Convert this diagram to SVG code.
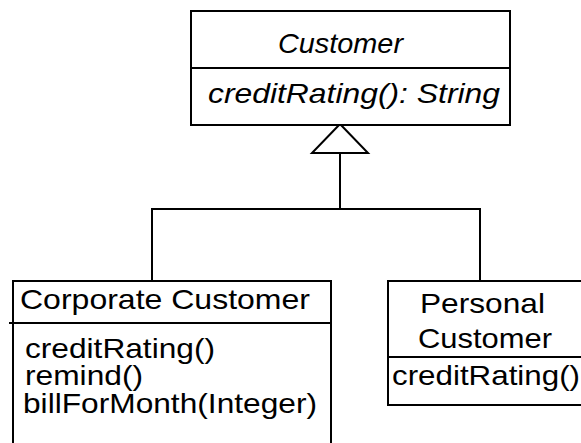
<svg xmlns="http://www.w3.org/2000/svg" width="581" height="443" viewBox="0 0 581 443">
<style>
.box{fill:#fff;stroke:#000;stroke-width:2}
.ln{fill:none;stroke:#000;stroke-width:2}
text{font-family:"Liberation Sans",Arial,sans-serif;font-size:28px;fill:#000}
.it{font-style:italic}
</style>
<rect width="581" height="443" fill="#fff"/>
<g id="connectors">
<polyline class="ln" points="152,280 152,209 480,209 480,281"/>
<line class="ln" x1="340" y1="209" x2="340" y2="153"/>
<polygon class="box" points="340,124 312,153 368,153"/>
</g>
<g id="customer">
<rect class="box" x="191" y="11" width="319" height="114"/>
<line class="ln" x1="191" y1="68" x2="510" y2="68"/>
<text class="it" x="278" y="53" textLength="125" lengthAdjust="spacingAndGlyphs">Customer</text>
<text class="it" x="208" y="103" textLength="292" lengthAdjust="spacingAndGlyphs">creditRating(): String</text>
</g>
<g id="corporate-customer">
<rect class="box" x="13" y="281" width="318" height="170"/>
<line class="ln" x1="9" y1="323" x2="331" y2="323"/>
<text x="20" y="309" textLength="290" lengthAdjust="spacingAndGlyphs">Corporate Customer</text>
<text x="25" y="358" textLength="190" lengthAdjust="spacingAndGlyphs">creditRating()</text>
<text x="25" y="385" textLength="118" lengthAdjust="spacingAndGlyphs">remind()</text>
<text x="23" y="413" textLength="294" lengthAdjust="spacingAndGlyphs">billForMonth(Integer)</text>
</g>
<g id="personal-customer">
<rect class="box" x="388" y="281" width="205" height="124"/>
<line class="ln" x1="388" y1="357" x2="593" y2="357"/>
<text x="420" y="313" textLength="125" lengthAdjust="spacingAndGlyphs">Personal</text>
<text x="418" y="348" textLength="134" lengthAdjust="spacingAndGlyphs">Customer</text>
<text x="392" y="385" textLength="188" lengthAdjust="spacingAndGlyphs">creditRating()</text>
</g>
</svg>
